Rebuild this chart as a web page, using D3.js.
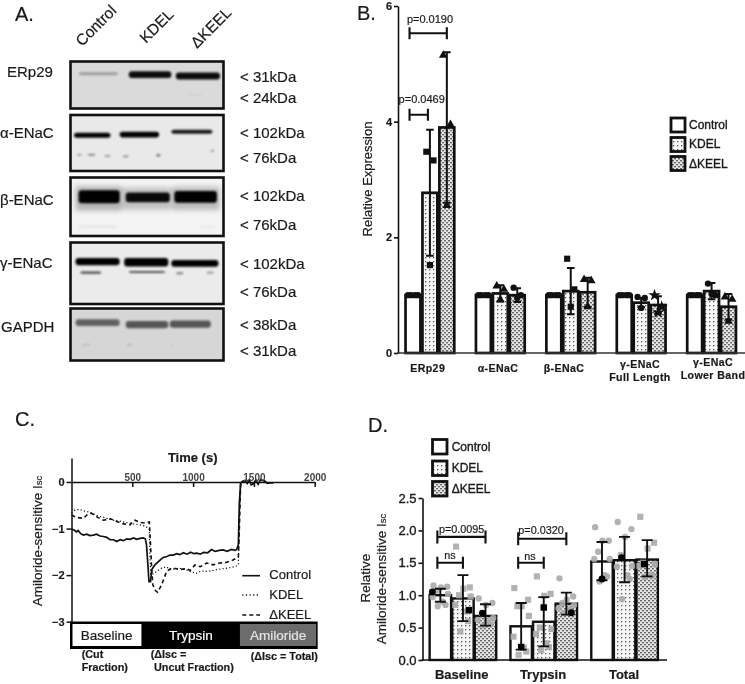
<!DOCTYPE html>
<html>
<head>
<meta charset="utf-8">
<script src="https://cdn.jsdelivr.net/npm/d3@7"></script>
<style>
  html, body { margin: 0; padding: 0; background: #fff; }
  svg { display: block; filter: blur(0.3px); }
  text { font-family: "Liberation Sans", Arial, sans-serif; fill: #1a1a1a; stroke: #1a1a1a; stroke-width: 0.2px; }
</style>
</head>
<body>
<svg id="fig" width="745" height="684"></svg>
<script>
// ---- shared
var treatments = ["Control", "KDEL", "\u0394KEEL"];

// ---- panel A: blots. Each band: [from %, to %, row %, thickness %, darkness]
var blotNames = ["ERp29", "\u03b1-ENaC", "\u03b2-ENaC", "\u03b3-ENaC", "GAPDH"];
var erp29Bands = [[5, 31, 26, 6, .28], [38, 66, 28, 14, .95], [69, 98, 31, 15, .95], [76, 87, 71, 3, .06]];
var alphaBands = [[2, 26, 36, 9, 1], [32, 58, 35, 10, 1], [66, 93, 30, 7, .9],
  [4, 7, 71, 3, .45], [11, 16, 71, 3, .55], [22, 26, 73, 3, .4], [34, 38, 74, 3, .45], [56, 59, 72, 4, .6], [92, 94, 64, 3, .5]];
var betaBands = [[5, 32, 33, 22, 1], [36, 65, 34, 17, .95], [68, 96, 33, 20, 1],
  [3, 34, 36, 42, .25], [34, 66, 36, 38, .2], [66, 98, 36, 40, .22], [5, 30, 84, 5, .05], [85, 95, 84, 4, .04]];
var gammaBands = [[3, 32, 31, 12, 1], [35, 64, 32, 14, 1], [66, 97, 34, 11, 1],
  [6, 20, 49, 3.5, .7], [38, 62, 48, 3.5, .65], [69, 74, 50, 3, .5], [89, 94, 49, 3, .4]];
var gapdhBands = [[3, 32, 27, 13, .55], [36, 64, 31, 14, .6], [65, 92, 30, 14, .6],
  [7, 13, 70, 4, .1], [37, 40, 70, 5, .12], [66, 68, 70, 4, .06]];
var blotBands = [erp29Bands, alphaBands, betaBands, gammaBands, gapdhBands];
var blotMarkers = [["< 31kDa", "< 24kDa"], ["< 102kDa", "< 76kDa"], ["< 102kDa", "< 76kDa"], ["< 102kDa", "< 76kDa"], ["< 38kDa", "< 31kDa"]];

// ---- panel B
var bGroups = ["ERp29", "\u03b1-ENaC", "\u03b2-ENaC", "\u03b3-ENaC|Full Length", "\u03b3-ENaC|Lower Band"];
var bTicks = [0, 2, 4, 6];
var bControl = [1, 1, 1, 1, 1];
var bKdel = [2.77, 1.03, 1.07, 0.87, 1.07];
var bKeel = [3.9, 1.0, 1.05, 0.83, 0.8];
var bKdelErr = [1.09, 0.14, 0.4, 0.08, 0.14];
var bKeelErr = [1.3, 0.12, 0.25, 0.15, 0.22];
var bKdelPts = [[3.48, 3.33, 1.52], [1.16, 1.1, 0.92], [1.63, 1.1, 0.8], [0.97, 0.95, 0.78], [1.2, 1.0, 1.02]];
var bKeelPts = [[5.15, 3.95, 2.55], [1.13, 1.0, 0.95], [1.27, 1.25, 0.8], [1.0, 0.8, 0.7], [0.97, 0.93, 0.55]];
var bKdelShape = ["square", "triangle", "square", "circle", "circle"];
var bKeelShape = ["triangle", "circle", "triangle", "star", "triangle"];

// ---- panel C: traces as [time s, amiloride-sensitive Isc]
var cXTicks = [500, 1000, 1500, 2000];
var cYTicks = [0, -1, -2, -3];
var controlTrace = [[0, -1.01], [20, -1.03], [42, -1.07], [55, -1.04], [75, -1.11], [97, -1.14], [125, -1.12], [150, -1.15], [180, -1.14], [205, -1.12], [235, -1.16], [262, -1.17], [290, -1.19], [317, -1.24], [345, -1.24], [372, -1.28], [400, -1.24], [426, -1.26], [455, -1.22], [481, -1.23], [510, -1.2], [535, -1.23], [563, -1.21], [590, -1.2], [607, -1.22], [617, -1.35], [631, -1.89], [637, -2.14], [650, -2.14], [659, -1.89], [670, -1.84], [686, -1.78], [710, -1.72], [735, -1.66], [755, -1.62], [785, -1.6], [810, -1.57], [837, -1.57], [865, -1.54], [890, -1.56], [920, -1.52], [950, -1.55], [980, -1.51], [1005, -1.54], [1029, -1.53], [1060, -1.55], [1085, -1.51], [1120, -1.52], [1152, -1.45], [1180, -1.49], [1215, -1.47], [1248, -1.46], [1280, -1.49], [1315, -1.45], [1345, -1.47], [1358, -1.45], [1372, -1.35], [1380, -0.46], [1391, -0.02], [1410, 0.02], [1427, 0.03], [1445, -0.03], [1462, 0.05], [1478, -0.06], [1495, -0.04], [1515, 0.04], [1535, -0.05], [1555, 0.05], [1575, 0.03], [1590, 0.02], [1610, -0.03], [1632, -0.02], [1660, -0.02]];
var kdelTrace = [[0, -0.66], [30, -0.6], [66, -0.59], [100, -0.62], [137, -0.64], [185, -0.69], [233, -0.74], [290, -0.78], [343, -0.82], [395, -0.84], [452, -0.87], [510, -0.9], [563, -0.92], [610, -0.95], [640, -1.02], [645, -1.6], [652, -1.99], [675, -1.97], [700, -1.92], [741, -1.85], [782, -1.82], [810, -1.88], [837, -1.87], [880, -1.85], [947, -1.89], [985, -1.93], [1029, -1.96], [1070, -1.91], [1111, -1.92], [1165, -1.9], [1221, -1.87], [1280, -1.85], [1344, -1.82], [1372, -1.78], [1380, -0.9], [1391, -0.08], [1405, 0]];
var keelTrace = [[0, -0.71], [40, -0.76], [97, -0.78], [130, -0.7], [163, -0.67], [215, -0.76], [262, -0.82], [320, -0.79], [372, -0.85], [430, -0.9], [481, -0.92], [505, -0.85], [522, -0.82], [563, -0.87], [605, -0.88], [640, -0.86], [650, -1.35], [660, -1.9], [669, -2.21], [690, -2.33], [708, -2.37], [741, -2.21], [782, -1.92], [810, -1.87], [837, -1.85], [890, -1.88], [947, -1.86], [975, -1.9], [1015, -1.78], [1060, -1.82], [1111, -1.74], [1165, -1.78], [1221, -1.74], [1270, -1.73], [1317, -1.69], [1372, -1.61], [1380, -1.03], [1391, -0.05], [1405, 0]];
var cPhases = ["Baseline", "Trypsin", "Amiloride"];
var cPhaseStart = [0, 577, 1385];
var cPhaseEnd = [577, 1385, 2012];

// ---- panel D
var dGroups = ["Baseline", "Trypsin", "Total"];
var dTicks = [0, 0.5, 1, 1.5, 2, 2.5];
var dControl = [1.0, 0.52, 1.52];
var dKdel = [0.95, 0.59, 1.54];
var dKeel = [0.68, 0.87, 1.55];
var dControlErr = [[0.9, 1.1], [0.16, 0.88], [1.23, 1.82]];
var dKdelErr = [[0.6, 1.31], [0.21, 0.97], [1.2, 1.9]];
var dKeelErr = [[0.53, 0.86], [0.7, 1.04], [1.29, 1.85]];
var dControlPts = [[1.15, 1.13, 1.12, 1.07, 1.02, 0.97, 0.9, 0.85, 0.83], [1.11, 0.93, 0.83, 0.83, 0.68, 0.36, 0.19, 0.13, 0.08], [2.05, 1.84, 1.84, 1.67, 1.56, 1.56, 1.31, 1.29, 1.21]];
var dKdelPts = [[1.75, 1.12, 1.1, 1.0, 0.98, 0.85, 0.75, 0.6, 0.44], [1.29, 1.02, 0.99, 0.5, 0.48, 0.4, 0.26, 0.2, 0.15], [2.13, 2.02, 1.9, 1.62, 1.45, 1.44, 1.31, 1.25, 0.94]];
var dKeelPts = [[0.95, 0.88, 0.85, 0.72, 0.65, 0.62, 0.6, 0.55, 0.53], [1.26, 0.98, 0.93, 0.88, 0.85, 0.8, 0.78, 0.75, 0.72], [2.21, 1.81, 1.72, 1.5, 1.48, 1.45, 1.31, 1.3, 1.28]];
var dControlBlack = [1.05, 0.2, 1.25];
var dKdelBlack = [0.77, 0.81, 1.58];
var dKeelBlack = [0.72, 0.73, 1.48];

var svg = d3.select("#fig");
var defs = svg.append("defs");
var ink = "#111";

// soft edges for the blot bands
[["soft", 1.2], ["softer", 2.4]].forEach(function(f) {
  defs.append("filter").attr("id", f[0])
    .attr("x", "-30%").attr("y", "-150%").attr("width", "160%").attr("height", "400%")
    .append("feGaussianBlur").attr("stdDeviation", f[1]);
});
// fills for KDEL and dKEEL bars
var p1 = defs.append("pattern").attr("id", "dots").attr("width", 4).attr("height", 4)
  .attr("patternUnits", "userSpaceOnUse");
p1.append("rect").attr("width", 4).attr("height", 4).attr("fill", "#f6f6f6");
p1.append("rect").attr("x", 1).attr("y", 1).attr("width", 1.3).attr("height", 1.3).attr("fill", "#555");
var p2 = defs.append("pattern").attr("id", "dense").attr("width", 4).attr("height", 4)
  .attr("patternUnits", "userSpaceOnUse");
p2.append("rect").attr("width", 4).attr("height", 4).attr("fill", "#e6e6e6");
p2.append("rect").attr("x", 0).attr("y", 0).attr("width", 2).attr("height", 1.4).attr("fill", "#666");
p2.append("rect").attr("x", 2).attr("y", 2).attr("width", 2).attr("height", 1.4).attr("fill", "#666");
var fills = ["#fff", "url(#dots)", "url(#dense)"];

function label(x, y, s, size, weight, anchor) {
  return svg.append("text").attr("x", x).attr("y", y).text(s)
    .attr("font-size", size).attr("font-weight", weight || "normal")
    .attr("text-anchor", anchor || "start");
}

// ---- panel labels
[["A.", 15, 21], ["B.", 357, 20], ["C.", 15, 426], ["D.", 368, 432]].forEach(function(d) {
  label(d[1], d[2], d[0], 20);
});

// ---- A: western blots
var blotTop = [61.5, 115, 177.5, 242.5, 308.5];
var blotBottom = [108.5, 171, 236, 304, 360.5];
var blotBg = ["#dadada", "#e9e9e9", "#f3f3f3", "#ebebeb", "#d6d6d6"];
var blotLabelY = [77, 138, 205, 268, 332];
var blotLabelX = [7, 0, 0, 0, 1];
var markerY = [[81.5, 103], [138, 163], [201, 230], [269, 296.5], [330, 356]];
var laneX = d3.scaleLinear().domain([0, 100]).range([71, 223]);

blotNames.forEach(function(name, i) {
  var rowY = d3.scaleLinear().domain([0, 100]).range([blotTop[i], blotBottom[i]]);
  var g = svg.append("g");
  var clip = "blot" + i;
  defs.append("clipPath").attr("id", clip).append("rect")
    .attr("x", laneX(0)).attr("y", blotTop[i]).attr("width", laneX(100) - laneX(0)).attr("height", blotBottom[i] - blotTop[i]);
  g.append("rect").attr("x", laneX(0)).attr("y", blotTop[i])
    .attr("width", laneX(100) - laneX(0)).attr("height", blotBottom[i] - blotTop[i])
    .attr("fill", blotBg[i]);
  g.append("g").attr("clip-path", "url(#" + clip + ")")
    .selectAll("rect").data(blotBands[i]).enter().append("rect")
    .attr("x", function(d) { return laneX(d[0]); })
    .attr("width", function(d) { return laneX(d[1]) - laneX(d[0]); })
    .attr("y", function(d) { return rowY(d[2] - d[3] / 2); })
    .attr("height", function(d) { return rowY(d[3]) - rowY(0); })
    .attr("rx", 3)
    .attr("fill", "#000")
    .attr("opacity", function(d) { return d[4]; })
    .attr("filter", function(d) { return d[3] > 30 ? "url(#softer)" : "url(#soft)"; });
  g.append("rect").attr("x", laneX(0) - 0.5).attr("y", blotTop[i])
    .attr("width", laneX(100) - laneX(0) + 1).attr("height", blotBottom[i] - blotTop[i])
    .attr("fill", "none").attr("stroke", ink).attr("stroke-width", 2.6);

  label(blotLabelX[i], blotLabelY[i], name, 15);
  blotMarkers[i].forEach(function(m, j) { label(240, markerY[i][j], m, 15); });
});
var laneLabelPos = [[82, 47], [146, 44], [197, 49]];
treatments.forEach(function(t, i) {
  label(0, 0, t, 15.5).attr("transform", "translate(" + laneLabelPos[i] + ") rotate(-45)");
});

// ---- grouped bars used by B and D
function barGroup(x0, x1, y, vals, fill, g) {
  g.selectAll("rect").data(vals).enter().append("rect")
    .attr("x", function(d, i) { return x0(i) + x1; })
    .attr("y", function(d) { return y(d); })
    .attr("height", function(d) { return y(0) - y(d); })
    .attr("fill", fill)
    .attr("stroke", ink);
}

// ---- B
var bY = d3.scaleLinear().domain([0, 6]).range([353, 6]);
var bX0 = d3.scaleBand().domain(d3.range(bGroups.length)).range([403.5, 738]).paddingInner(0.25);
var bX1 = d3.scaleBand().domain(d3.range(3)).range([0, bX0.bandwidth()]).padding(0.12);
var bPlot = svg.append("g");

[bControl, bKdel, bKeel].forEach(function(vals, k) {
  var g = bPlot.append("g");
  barGroup(bX0, bX1(k), bY, vals, fills[k], g);
  g.selectAll("rect").attr("width", bX1.bandwidth()).attr("stroke-width", 2.7);
});

function shape(name) {
  var t = { square: d3.symbolSquare, triangle: d3.symbolTriangle, circle: d3.symbolCircle, star: d3.symbolStar }[name];
  return d3.symbol().type(t).size(name == "star" ? 48 : name == "square" ? 38 : 32)();
}
var bSpread = [-3.6, 3.6, 0];

// control dots sit on the bar top
bControl.forEach(function(v, gi) {
  [-5, -2, 2, 5].forEach(function(dx) {
    bPlot.append("path").attr("d", shape("circle"))
      .attr("transform", "translate(" + (bX0(gi) + bX1(0) + bX1.bandwidth() / 2 + dx) + "," + bY(v) + ")")
      .attr("fill", ink);
  });
});

[[bKdel, bKdelErr, bKdelPts, bKdelShape, 1], [bKeel, bKeelErr, bKeelPts, bKeelShape, 2]].forEach(function(set) {
  var k = set[4];
  set[0].forEach(function(v, gi) {
    var cx = bX0(gi) + bX1(k) + bX1.bandwidth() / 2;
    var lo = bY(v - set[1][gi]), hi = bY(v + set[1][gi]);
    bPlot.append("path")
      .attr("d", "M" + (cx - 3.8) + " " + hi + "H" + (cx + 3.8) + "M" + cx + " " + hi + "V" + lo + "M" + (cx - 3.8) + " " + lo + "H" + (cx + 3.8))
      .attr("fill", "none").attr("stroke", ink).attr("stroke-width", 2);
    set[2][gi].forEach(function(p, pi) {
      bPlot.append("path").attr("d", shape(set[3][gi]))
        .attr("transform", "translate(" + (cx + bSpread[pi]) + "," + bY(p) + ")")
        .attr("fill", ink);
    });
  });
});

var bAxisY = svg.append("g").attr("transform", "translate(398,0)")
  .call(d3.axisLeft(bY).tickValues(bTicks).tickSize(4).tickPadding(2).tickSizeOuter(0).tickFormat(d3.format("d")));
bAxisY.selectAll("text").attr("font-size", 11).attr("font-weight", "bold");
bAxisY.selectAll("path,line").attr("stroke", ink).attr("stroke-width", 1.6);
svg.append("line").attr("x1", 397).attr("x2", 745).attr("y1", 353).attr("y2", 353).attr("stroke", "#333").attr("stroke-width", 1.5);

label(0, 0, "Relative Expression", 13, "normal", "middle")
  .attr("transform", "translate(372,179) rotate(-90)");

var bLabelY = [[371.7], [371.7], [371.7], [367.7, 380.7], [366, 379]];
var bLabelX = [427.7, 498, 564, 640, 713];
bGroups.forEach(function(s, i) {
  s.split("|").forEach(function(line, j) {
    label(bLabelX[i], bLabelY[i][j], line, 10.6, "bold", "middle").attr("letter-spacing", 0.4);
  });
});

// significance brackets
function bracket(x1, x2, y, cap) {
  svg.append("path")
    .attr("d", "M" + x1 + " " + (y - cap) + "V" + (y + cap) + "M" + x1 + " " + y + "H" + x2 + "M" + x2 + " " + (y - cap) + "V" + (y + cap))
    .attr("fill", "none").attr("stroke", ink).attr("stroke-width", 2.1);
}
bracket(bX0(0) + bX1(0) + 4, bX0(0) + bX1(2) + bX1.bandwidth() / 2, bY(5.53), 6);
bracket(bX0(0) + bX1(0) + 4, bX0(0) + bX1(1) + bX1.bandwidth() / 2 - 2, bY(4.12), 6);
label(430, 23, "p=0.0190", 11, "normal", "middle");
label(421.7, 103, "p=0.0469", 11, "normal", "middle");

function legend(boxX, boxYs, textX, textYs, size, side) {
  treatments.forEach(function(t, i) {
    svg.append("rect").attr("x", boxX).attr("y", boxYs[i]).attr("width", side).attr("height", side)
      .attr("fill", fills[i]).attr("stroke", ink).attr("stroke-width", 2.8);
    label(textX, textYs[i], t, size).style("stroke-width", "0.35px");
  });
}
legend(671, [118, 137.5, 156.5], 689, [129, 148, 167.5], 12, 14);

// ---- C
var cX = d3.scaleLinear().domain([0, 2000]).range([71.5, 314.7]);
var cY = d3.scaleLinear().domain([0.515, -3]).range([458, 621.7]);
var line = d3.line().x(function(d) { return cX(d[0]); }).y(function(d) { return cY(d[1]); });

svg.append("path").datum(kdelTrace).attr("d", line).attr("fill", "none")
  .attr("stroke", ink).attr("stroke-width", 1.2).attr("stroke-dasharray", "1.2 2.2");
svg.append("path").datum(keelTrace).attr("d", line).attr("fill", "none")
  .attr("stroke", ink).attr("stroke-width", 1.6).attr("stroke-dasharray", "4 3");
svg.append("path").datum(controlTrace).attr("d", line).attr("fill", "none")
  .attr("stroke", ink).attr("stroke-width", 1.7);

var cAxisY = svg.append("g").attr("transform", "translate(71.5,0)")
  .call(d3.axisLeft(cY).tickValues(cYTicks).tickSize(5).tickPadding(2).tickSizeOuter(0)
    .tickFormat(d3.format("d")));
cAxisY.selectAll("text").attr("font-size", 11).attr("font-weight", "bold");
cAxisY.selectAll("path,line").attr("stroke", ink).attr("stroke-width", 1.5);

var cAxisX = svg.append("g").attr("transform", "translate(0," + cY(0) + ")")
  .call(d3.axisBottom(cX).tickValues(cXTicks).tickSize(5).tickSizeOuter(0).tickFormat(d3.format("d")));
cAxisX.selectAll("text").attr("y", -1).attr("dy", 0).attr("font-size", 10).attr("font-weight", "bold").style("fill", "#444").style("stroke", "none");
cAxisX.selectAll("path,line").attr("stroke", ink).attr("stroke-width", 1.5);

label(192.7, 462, "Time (s)", 13, "bold", "middle");

function iscTitle(x, y) {
  var t = label(0, 0, "Amiloride-sensitive I", 13.5, "normal", "middle")
    .attr("transform", "translate(" + x + "," + y + ") rotate(-90)");
  t.append("tspan").attr("font-size", 9.5).text("sc");
  return t;
}
iscTitle(42, 541);

// phase strip under the trace
var phaseFill = ["#fff", "#000", "#6c6c6c"];
var phaseText = ["#1a1a1a", "#fff", "#e4e4e4"];
svg.append("rect").attr("x", cX(0)).attr("y", 623).attr("width", cX(2012) - cX(0)).attr("height", 24.5)
  .attr("fill", "#000").attr("stroke", "#000").attr("stroke-width", 3);
cPhases.forEach(function(p, i) {
  svg.append("rect").attr("x", cX(cPhaseStart[i]) + (i ? 0 : 1)).attr("y", 624)
    .attr("width", cX(cPhaseEnd[i]) - cX(cPhaseStart[i]) - (i ? 0 : 1)).attr("height", 22)
    .attr("fill", phaseFill[i]);
  label((cX(cPhaseStart[i]) + cX(cPhaseEnd[i])) / 2, 640, p, 13.5, "normal", "middle")
    .style("fill", phaseText[i]).style("stroke", phaseText[i]);
});
label(81.7, 658, "(Cut", 10.8, "bold");
label(81.7, 670.7, "Fraction)", 10.8, "bold");
label(150.7, 658, "(\u0394Isc =", 10.8, "bold");
label(154, 670.7, "Uncut Fraction)", 10.8, "bold");
label(250.7, 660, "(\u0394Isc = Total)", 10.8, "bold");

var cLegendDash = [null, "1.2 2.4", "4 3"];
var cLegendY = [575.7, 595, 615];
treatments.forEach(function(t, i) {
  svg.append("line").attr("x1", 242.3).attr("x2", 260).attr("y1", cLegendY[i]).attr("y2", cLegendY[i])
    .attr("stroke", ink).attr("stroke-width", 1.6).attr("stroke-dasharray", cLegendDash[i]);
  label(269.3, cLegendY[i] + 3.5, t, 13);
});

// ---- D
var dY = d3.scaleLinear().domain([0, 2.5]).range([660, 498]);
var dX0 = d3.scaleBand().domain(d3.range(dGroups.length)).range([428.5, 659]).paddingInner(0.148);
var dX1 = d3.scaleBand().domain(d3.range(3)).range([0, dX0.bandwidth()]).padding(0.05);
var dPlot = svg.append("g");
var jitter = [-0.32, 0.32, 0.02, -0.18, 0.36, -0.36, 0.12, 0.24, -0.12];

var dSets = [
  [dControl, dControlErr, dControlPts, dControlBlack, "circle"],
  [dKdel, dKdelErr, dKdelPts, dKdelBlack, "square"],
  [dKeel, dKeelErr, dKeelPts, dKeelBlack, "circle"]
];
// black points sit a little off the error bar in some bars
var blackShift = [[-8, 0, 0], [6, 0, -3], [-3, 5, -3]];

dSets.forEach(function(set, k) {
  var g = dPlot.append("g");
  barGroup(dX0, dX1(k), dY, set[0], fills[k], g);
  g.selectAll("rect").attr("width", dX1.bandwidth()).attr("stroke-width", 2.4);
  set[0].forEach(function(v, gi) {
    var cx = dX0(gi) + dX1(k) + dX1.bandwidth() / 2;
    // trypsin control and total dKEEL use squares, total KDEL uses circles
    var sym = set[4];
    if (gi == 1 && k == 0) sym = "square";
    if (gi == 2 && k == 1) sym = "circle";
    if (gi == 2 && k == 2) sym = "square";
    set[2][gi].forEach(function(p, pi) {
      dPlot.append("path").attr("d", shape(sym))
        .attr("transform", "translate(" + (cx + jitter[pi] * dX1.bandwidth()) + "," + dY(p) + ")")
        .attr("fill", "#aaa").attr("opacity", 0.9);
    });
    var lo = dY(set[1][gi][0]), hi = dY(set[1][gi][1]);
    dPlot.append("path")
      .attr("d", "M" + (cx - 5.5) + " " + hi + "H" + (cx + 5.5) + "M" + cx + " " + hi + "V" + lo + "M" + (cx - 5.5) + " " + lo + "H" + (cx + 5.5))
      .attr("fill", "none").attr("stroke", ink).attr("stroke-width", 1.9);
    dPlot.append("path").attr("d", d3.symbol().type(sym == "square" ? d3.symbolSquare : d3.symbolCircle).size(sym == "square" ? 42 : 38)())
      .attr("transform", "translate(" + (cx + blackShift[k][gi]) + "," + dY(set[3][gi]) + ")")
      .attr("fill", "#000");
  });
});

var dAxisY = svg.append("g").attr("transform", "translate(422.5,0)")
  .call(d3.axisLeft(dY).tickValues(dTicks).tickSize(4).tickPadding(2).tickSizeOuter(0).tickFormat(d3.format(".1f")));
dAxisY.selectAll("text").attr("font-size", 13).style("stroke-width", "0.35px");
dAxisY.selectAll("path,line").attr("stroke", ink).attr("stroke-width", 1.6);
svg.append("line").attr("x1", 421.5).attr("x2", 667).attr("y1", 660).attr("y2", 660).attr("stroke", ink).attr("stroke-width", 1.6);

label(0, 0, "Relative", 13.5, "normal", "middle").attr("transform", "translate(370,578) rotate(-90)");
iscTitle(386, 579);

var dLabelX = [461.7, 543, 624];
dGroups.forEach(function(s, i) { label(dLabelX[i], 679, s, 13, "bold", "middle"); });

function dBarCx(g, k) { return dX0(g) + dX1(k) + dX1.bandwidth() / 2; }
bracket(dBarCx(0, 0) - 3, dBarCx(0, 2), dY(1.9), 6.5);
bracket(dBarCx(0, 0) - 3, dBarCx(0, 1), dY(1.5), 6);
bracket(dBarCx(1, 0) - 3, dBarCx(1, 2), dY(1.87), 6.5);
bracket(dBarCx(1, 0) - 3, dBarCx(1, 1), dY(1.5), 6);
label(461.7, 533, "p=0.0095", 10.8, "normal", "middle");
label(450, 559, "ns", 10.8, "normal", "middle");
label(541, 534, "p=0.0320", 10.8, "normal", "middle");
label(530, 560, "ns", 10.8, "normal", "middle");

legend(432.5, [439.5, 461, 481.5], 451.7, [450.7, 472.3, 493.3], 12, 14.5);
</script>
</body>
</html>
